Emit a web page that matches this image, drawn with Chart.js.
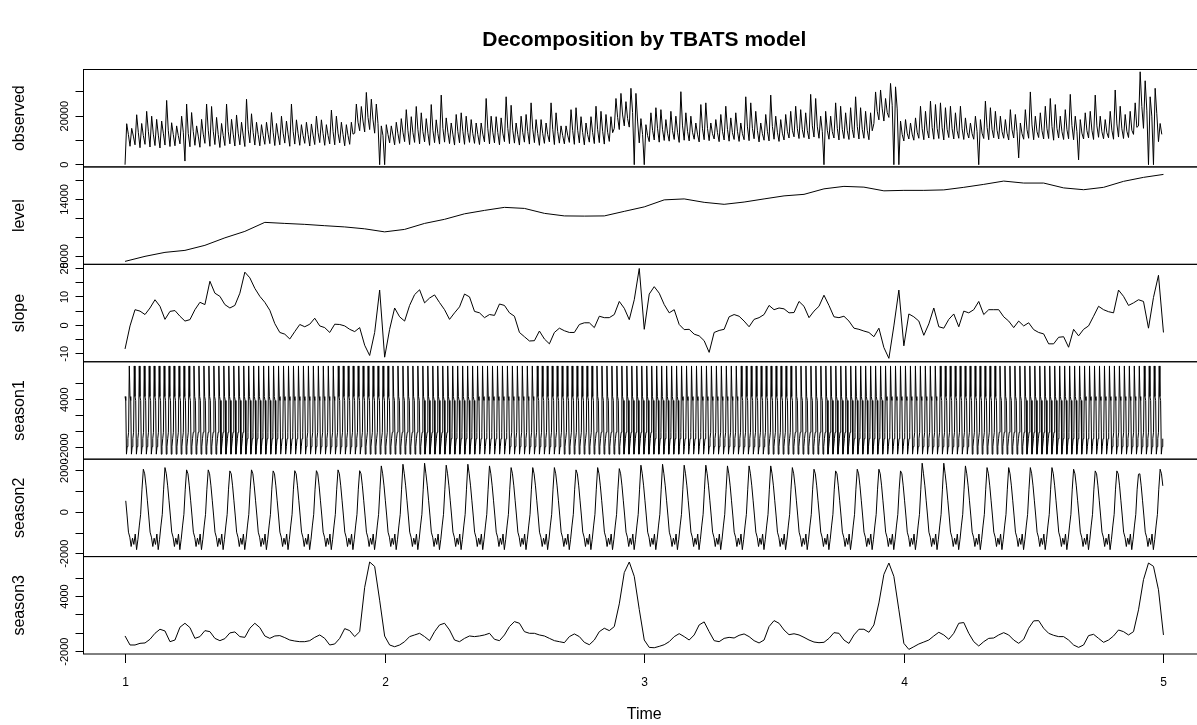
<!DOCTYPE html>
<html>
<head>
<meta charset="utf-8">
<title>Decomposition by TBATS model</title>
<script src="https://cdn.jsdelivr.net/npm/chart.js"></script>
<style>
  html, body { margin: 0; padding: 0; background: #fff; overflow: hidden; }
  canvas { display: block; }
</style>
</head>
<body>
<canvas id="tbats" width="1205" height="725"></canvas>
<script>
// time axis
const timeTicks = [1, 2, 3, 4, 5];

// observed: low, high and middle value of each week (208 weeks)
const obsHigh = [
  16900, 15000, 20600, 17000, 22000, 20000, 18700, 18000, 26500, 17300,
  16000, 20000, 25000, 21500, 16000, 18700, 25000, 24000, 19500, 17000,
  25000, 18700, 20500, 17500, 27000, 21000, 17500, 16500, 17500, 21500,
  17000, 20000, 18000, 25000, 18500, 16500, 17500, 16800, 20000, 18500,
  16500, 22500, 20000, 17500, 16500, 17500, 25000, 24000, 29800, 27000,
  25000, 16000, 16500, 16000, 17500, 19000, 22700, 19800, 24000, 21400,
  19000, 24800, 18500, 28700, 19300, 17200, 20700, 21400, 20000, 18600,
  17200, 17200, 27300, 20000, 19800, 19300, 28000, 24500, 17200, 20000,
  20700, 25500, 18600, 18600, 17200, 25500, 21400, 16000, 16000, 22700,
  23500, 19800, 17200, 19800, 24100, 22000, 20700, 19800, 27300, 29400,
  26000, 31500, 29400, 19000, 16500, 21400, 23500, 22700, 18600, 22000,
  20000, 30100, 21400, 20000, 17200, 24800, 25500, 17200, 18600, 20700,
  24100, 19300, 21400, 17200, 28000, 25500, 22000, 17200, 20700, 28700,
  20000, 18600, 20700, 22000, 24100, 22700, 21400, 29000, 27300, 20000,
  22000, 20000, 25500, 24100, 21400, 23500, 28000, 23500, 22000, 21400,
  30000, 30800, 27300, 33500, 32100, 18000, 18600, 17200, 19300, 24100,
  22000, 26200, 24800, 25500, 23500, 24100, 21400, 24100, 19300, 17200,
  20000, 18600, 26200, 23500, 22000, 20000, 18600, 22700, 20700, 17200,
  22700, 30000, 20000, 21400, 24100, 27300, 24800, 20000, 22700, 29000,
  20000, 18600, 21400, 22000, 28700, 20000, 18600, 22000, 30800, 24100,
  20700, 22000, 25500, 38300, 34600, 28000, 31500, 17000
];
const obsLow = [
  0, 7600, 8200, 7000, 8400, 7300, 7900, 6900, 8100, 7500,
  7800, 8600, 1500, 7400, 8000, 7200, 8800, 7600, 8300, 7100,
  7900, 8600, 7700, 8200, 7500, 9000, 8100, 7800, 8400, 8700,
  7900, 8200, 8900, 7600, 8500, 8000, 8800, 7700, 8300, 9100,
  8000, 8600, 8200, 9000, 7800, 8400, 13000, 14000, 13500, 14500,
  13000, 0, 0, 9000, 8200, 8800, 9500, 8300, 9200, 8600,
  9400, 8000, 9100, 8500, 9300, 8700, 8100, 9000, 8400, 9200,
  8800, 8300, 9400, 8600, 9000, 8200, 9500, 8700, 8900, 8100,
  9300, 8500, 9100, 8000, 8800, 9400, 8300, 8900, 8600, 9200,
  8400, 9000, 8200, 9300, 8700, 9100, 8500, 9600, 15000, 14500,
  16000, 15500, 0, 9000, 0, 9500, 10200, 9300, 10000, 9700,
  10400, 9200, 10100, 9800, 10500, 9400, 10300, 9900, 10600, 9500,
  10200, 9700, 10400, 9600, 10300, 9900, 10700, 9400, 10100, 9800,
  10500, 9600, 10200, 11000, 11500, 10800, 11200, 10600, 11400, 10900,
  0, 10500, 11000, 10200, 10800, 10400, 11100, 10600, 10900, 10300,
  17000, 18500, 18000, 19500, 0, 0, 9800, 10600, 10100, 10900,
  10300, 11000, 10500, 10800, 10200, 11200, 10600, 10900, 10400, 11000,
  10500, 0, 10800, 10300, 11100, 10600, 10900, 10200, 11000, 2800,
  10500, 10900, 10300, 11200, 10600, 10800, 10100, 11000, 10400, 10700,
  10300, 2000, 10600, 11000, 10400, 11300, 10700, 11100, 10500, 11400,
  10800, 11200, 12500, 16000, 15000, 0, 0, 9500
];
const obsMid = [
  12500, 11800, 13200, 12000, 13800, 12600, 12200, 13000, 14000, 12400,
  12000, 13400, 12800, 13600, 11800, 12600, 14200, 13800, 12400, 12000,
  13800, 12600, 13000, 12200, 14400, 13200, 12400, 12000, 12600, 13400,
  12200, 13000, 12600, 13800, 12800, 12000, 12400, 12200, 13200, 12800,
  12000, 13600, 13000, 12400, 12000, 12600, 17500, 18000, 19500, 18500,
  17000, 12000, 12500, 12200, 12800, 13400, 14000, 13200, 14400, 13600,
  13000, 14200, 12800, 15000, 13400, 12600, 13600, 13800, 13200, 12800,
  12400, 12600, 14800, 13400, 13200, 13000, 15000, 14200, 12400, 13200,
  13600, 14600, 12800, 12800, 12400, 14600, 13600, 12000, 12200, 14000,
  14200, 13200, 12400, 13200, 14400, 13800, 13400, 13200, 19500, 20500,
  19000, 21500, 18000, 12500, 12000, 14200, 14800, 14400, 13000, 14000,
  13400, 16000, 13800, 13400, 12600, 14800, 15000, 12800, 13200, 13800,
  14600, 13200, 13800, 12800, 15600, 15000, 14000, 12800, 13800, 15800,
  13400, 13000, 13800, 14200, 14800, 14400, 14000, 16000, 15600, 13600,
  14200, 13600, 15000, 14600, 14000, 14600, 15800, 14600, 14200, 14000,
  22000, 23000, 21500, 24500, 23000, 12500, 13000, 12600, 13400, 14800,
  14200, 15400, 15000, 15200, 14600, 14800, 14000, 14800, 13400, 12800,
  13600, 13000, 15400, 14600, 14200, 13600, 13000, 14400, 13800, 12800,
  14400, 16400, 13600, 14000, 14800, 15800, 15000, 13600, 14400, 16200,
  13600, 13000, 14000, 14200, 16000, 13600, 13200, 14200, 16800, 14800,
  13800, 14200, 15400, 24000, 22500, 20000, 21000, 12500
];
const obsTicks = [0, 10000, 20000, 30000];
const obsTickLabels = [0, 20000];

// level: every 4 weeks
const level = [
  7470, 8000, 8420, 8630, 9160, 9950, 10630, 11580, 11470, 11370,
  11230, 11100, 10900, 10580, 10840, 11470, 11900, 12480, 12840, 13160,
  13050, 12530, 12260, 12240, 12260, 12740, 13210, 13950, 14050, 13690,
  13480, 13720, 14050, 14370, 14530, 15110, 15370, 15290, 14900, 14950,
  14950, 15000, 15270, 15580, 15930, 15720, 15720, 15210, 15020, 15270,
  15900, 16320, 16630
];
const levelTicks = [8000, 10000, 12000, 14000, 16000];
const levelTickLabels = [8000, 14000];

// slope: weekly (209 values)
const slope = [
  -8.3, -0.2, 5.5, 5.0, 3.8, 6.1, 9.0, 6.7, 2.1, 4.9,
  5.2, 3.2, 1.5, 2.0, 5.5, 8.1, 7.3, 15.5, 11.3, 10.2,
  7.3, 6.1, 7.0, 11.3, 18.7, 16.7, 13.0, 10.2, 8.1, 5.3,
  0.6, -2.5, -3.1, -4.8, -2.2, 0.3, -0.5, 0.4, 2.5, -0.2,
  -0.8, -2.5, 0.4, 0.3, -0.2, -1.4, -2.2, -0.8, -7.0, -10.6,
  -2.5, 12.4, -11.2, -1.4, 6.1, 3.0, 1.5, 7.0, 10.8, 12.5,
  7.9, 9.6, 10.7, 8.0, 5.5, 2.1, 4.4, 6.5, 11.0, 10.0,
  4.9, 4.4, 2.7, 3.8, 3.5, 7.5, 7.0, 4.4, 3.2, -2.5,
  -4.0, -5.5, -5.4, -2.0, -4.8, -6.5, -2.5, -1.0, -1.9, -2.5,
  -2.5, 0.3, 0.9, 0.9, -0.8, 3.2, 2.7, 2.7, 3.8, 8.4,
  6.0, 2.0, 9.0, 20.0, -1.4, 11.0, 13.6, 11.3, 7.3, 4.4,
  5.5, 0.3, -1.5, -1.4, -3.1, -3.7, -5.4, -9.5, -2.5, -1.8,
  -1.4, 3.0, 3.8, 3.2, 1.5, -0.5, 2.1, 2.7, 3.8, 7.0,
  5.5, 6.1, 5.8, 4.4, 4.5, 8.4, 6.7, 2.7, 5.0, 6.7,
  10.6, 7.0, 3.0, 2.7, 3.2, 1.5, -1.0, -1.4, -2.0, -2.5,
  -4.0, -1.0, -7.8, -11.6, -0.2, 12.4, -7.2, 4.0, 3.0, 1.5,
  -3.5, 0.5, 6.1, -0.5, -1.0, 2.1, 4.0, -0.5, 5.0, 4.4,
  5.5, 8.4, 3.8, 5.5, 5.5, 5.5, 3.0, 1.5, -0.8, 1.5,
  -0.2, 0.9, -1.5, -2.5, -3.0, -6.5, -6.5, -4.2, -4.0, -7.7,
  -1.4, -3.7, -1.4, -0.2, 3.2, 6.7, 5.5, 4.8, 4.4, 12.4,
  10.2, 7.0, 7.9, 9.0, 8.4, -1.0, 9.8, 17.6, -2.5
];
const slopeTicks = [-10, -5, 0, 5, 10, 15, 20];
const slopeTickLabels = [-10, 0, 10, 20];

// season1: one weekly profile, daily values, 1461 days
const season1Week = [4400, 3900, -2850, -1900, -900, -100, 8250];
const season1Days = 1461;
const season1Ticks = [-2000, 0, 2000, 4000, 6000];
const season1TickLabels = [-2000, 4000];

// season2: monthly cycle profile (16 steps) and the height of each peak
const season2Cycle = [2050, 1850, 1270, 550, -180, -960, -1200, -1650,
  -1250, -1550, -1050, -1800, -1300, -660, -100, 1110];
const season2Peak = [
  2070, 2150, 2040, 2040, 1990, 2040, 1990, 2000, 2000, 2040, 2000, 2230,
  2310, 2360, 2265, 2310, 2230, 2150, 2150, 2150, 2040, 2150, 2100, 2265,
  2310, 2265, 2265, 2230, 2230, 2230, 2150, 2070, 1990, 2070, 2070, 1990,
  2360, 2360, 2230, 2150, 2150, 2150, 2150, 2070, 1990, 1990, 1830, 2070
];
const season2FirstPeak = 1.0705;
const season2Ticks = [-2000, -1000, 0, 1000, 2000];
const season2TickLabels = [-2000, 0, 2000];

// season3: weekly (209 values)
const season3 = [
  -290, -1270, -1270, -1090, -1050, -650, 0, 440, 255, -910,
  -730, 660, 1090, 620, -550, -360, 290, 180, -550, -800,
  -580, 40, 150, -360, -440, 550, 1090, 620, -290, -550,
  -290, -250, -470, -730, -840, -910, -910, -800, -440, -180,
  -550, -1270, -1160, -550, 510, 290, -360, 180, 5000, 7750,
  7270, 3600, -300, -1270, -1460, -1270, -910, -360, -180, 0,
  -360, -800, 180, 910, 1090, 360, -730, -910, -550, -290,
  -360, -290, -180, 0, -650, -800, -180, 730, 1270, 1090,
  180, 0, 0, -180, -290, -550, -800, -910, -1020, -360,
  -70, -360, -980, -1240, -730, 180, 550, 290, 730, 3200,
  6600, 7750, 6190, 2600, -730, -1530, -1570, -1420, -1240, -910,
  -360, -40, -360, -730, -180, 910, 1240, 180, -800, -910,
  -550, -440, -510, -220, -70, -360, -800, -1050, -730, 730,
  1380, 1090, 360, -150, -50, -180, -440, -730, -950, -1020,
  -980, -550, 70, 0, -730, -1100, -180, 440, 440, 110,
  910, 3300, 6400, 7640, 6190, 2550, -1090, -1750, -1460, -1160,
  -950, -730, -290, 110, -180, -650, 0, 1090, 1170, 0,
  -910, -1380, -910, -550, -510, -180, 70, -180, -730, -1090,
  -650, 550, 1350, 1380, 550, 0, -220, -360, -360, -730,
  -1270, -1530, -1270, -250, -110, -550, -980, -730, -290, 360,
  180, -180, 180, 2550, 5830, 7640, 7280, 4730, -180
];
const season3Ticks = [-2000, 0, 2000, 4000, 6000];
const season3TickLabels = [-2000, 4000];

// ---- build point lists ----
const week = 1 / 52;
const obsPoints = [];
obsLow.forEach((v, k) => {
  obsPoints.push({ x: 1 + k * week, y: v });
  obsPoints.push({ x: 1 + (k + 1 / 3) * week, y: obsHigh[k] });
  obsPoints.push({ x: 1 + (k + 2 / 3) * week, y: obsMid[k] });
});
const levelPoints = level.map((v, i) => ({ x: 1 + i * 4 * week, y: v }));
const slopePoints = slope.map((v, k) => ({ x: 1 + k * week, y: v }));
const season3Points = season3.map((v, k) => ({ x: 1 + k * week, y: v }));

const season1Points = [];
for (let d = 0; d < season1Days; d++) {
  season1Points.push({ x: 1 + d / 365.25, y: season1Week[d % season1Week.length] });
}

const season2Points = [];
for (let c = -1; c < season2Peak.length; c++) {
  season2Cycle.forEach((v, j) => {
    const t = season2FirstPeak + (c + j / season2Cycle.length) / 12;
    if (t < 1 || t > 5) return;
    season2Points.push({ x: t, y: j === 0 ? season2Peak[c] : v });
  });
}

// ---- chart ----
Chart.defaults.font.family = '"Liberation Sans", Arial, Helvetica, sans-serif';
Chart.defaults.color = '#000';

const panels = [
  { id: 'yObs', title: 'observed', min: -910, max: 39250, ticks: obsTicks, labels: obsTickLabels, data: obsPoints },
  { id: 'yLevel', title: 'level', min: 7160, max: 17420, ticks: levelTicks, labels: levelTickLabels, data: levelPoints },
  { id: 'ySlope', title: 'slope', min: -12.8, max: 21.45, ticks: slopeTicks, labels: slopeTickLabels, data: slopePoints },
  { id: 'yS1', title: 'season1', min: -3480, max: 8780, ticks: season1Ticks, labels: season1TickLabels, data: season1Points },
  { id: 'yS2', title: 'season2', min: -2135, max: 2555, ticks: season2Ticks, labels: season2TickLabels, data: season2Points },
  { id: 'yS3', title: 'season3', min: -2250, max: 8340, ticks: season3Ticks, labels: season3TickLabels, data: season3Points }
];

function panelScale(p, weight) {
  return {
    type: 'linear',
    position: 'left',
    stack: 'panels',
    stackWeight: 1,
    weight: weight,
    min: p.min,
    max: p.max,
    afterBuildTicks: s => { s.ticks = p.ticks.map(v => ({ value: v })); },
    afterFit: s => { s.width = 83.5; },
    ticks: { display: false },
    grid: { drawOnChartArea: false, drawTicks: true, tickLength: 8, color: '#000' },
    border: { display: true, color: '#000', width: 1 },
    title: { display: true, text: p.title, color: '#000', font: { size: 16 }, padding: { top: 10, bottom: 0 } }
  };
}

const scales = {
  x: {
    type: 'linear',
    position: 'bottom',
    min: 0.84,
    max: 5.16,
    afterBuildTicks: s => { s.ticks = timeTicks.map(v => ({ value: v })); },
    afterFit: s => { s.height = 71; },
    ticks: { display: false },
    grid: { display: false },
    border: { display: false },
    title: { display: true, text: 'Time', color: '#000', font: { size: 16 }, padding: { top: 0, bottom: 1 } }
  }
};
panels.forEach((p, i) => { scales[p.id] = panelScale(p, panels.length - i); });

// box round every panel
const panelFrames = {
  id: 'panelFrames',
  afterDatasetsDraw(chart) {
    const { ctx, chartArea } = chart;
    ctx.save();
    ctx.strokeStyle = '#000';
    ctx.lineWidth = 1;
    panels.forEach(p => {
      const s = chart.scales[p.id];
      ctx.strokeRect(chartArea.left, s.top, chartArea.right - chartArea.left, s.bottom - s.top);
    });
    ctx.restore();
  }
};

// R style axis text: y labels written along the axis, time ticks under the bottom panel
const tickText = {
  id: 'tickText',
  afterDraw(chart) {
    const ctx = chart.ctx;
    ctx.save();
    ctx.fillStyle = '#000';
    ctx.strokeStyle = '#000';
    ctx.lineWidth = 1;
    ctx.font = '11px "Liberation Sans", Arial, sans-serif';
    ctx.textAlign = 'center';
    ctx.textBaseline = 'alphabetic';
    panels.forEach(p => {
      const s = chart.scales[p.id];
      p.labels.forEach(v => {
        ctx.save();
        ctx.translate(s.right - 16, s.getPixelForValue(v));
        ctx.rotate(-Math.PI / 2);
        ctx.fillText(String(v), 0, 0);
        ctx.restore();
      });
    });
    const xs = chart.scales.x;
    const base = chart.scales.yS3.bottom;
    ctx.font = '12px "Liberation Sans", Arial, sans-serif';
    ctx.textBaseline = 'middle';
    timeTicks.forEach(v => {
      const px = Math.round(xs.getPixelForValue(v)) + 0.5;
      ctx.beginPath();
      ctx.moveTo(px, base);
      ctx.lineTo(px, base + 9);
      ctx.stroke();
      ctx.fillText(String(v), px, base + 29);
    });
    ctx.restore();
  }
};

new Chart(document.getElementById('tbats'), {
  type: 'line',
  data: {
    datasets: panels.map(p => ({
      label: p.title,
      data: p.data,
      xAxisID: 'x',
      yAxisID: p.id,
      borderColor: '#000',
      borderWidth: 1,
      pointRadius: 0,
      fill: false,
      tension: 0
    }))
  },
  options: {
    responsive: false,
    animation: false,
    devicePixelRatio: 1,
    events: [],
    parsing: false,
    normalized: true,
    layout: { padding: 0 },
    scales: scales,
    plugins: {
      legend: { display: false },
      tooltip: { enabled: false },
      title: {
        display: true,
        fullSize: false,
        text: 'Decomposition by TBATS model',
        color: '#000',
        font: { size: 21, weight: 'bold' },
        padding: { top: 27.5, bottom: 16.8 }
      }
    }
  },
  plugins: [panelFrames, tickText]
});
</script>
</body>
</html>
